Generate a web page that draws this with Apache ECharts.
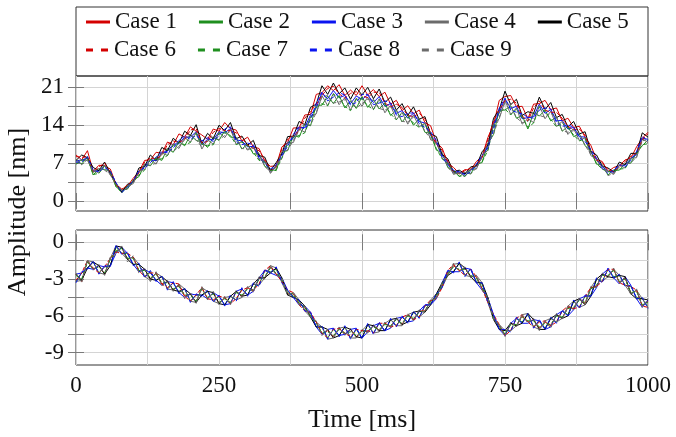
<!DOCTYPE html>
<html><head><meta charset="utf-8">
<script src="https://cdn.jsdelivr.net/npm/echarts@6/dist/echarts.min.js"></script>
<style>html,body{margin:0;padding:0;background:#fff}#c{width:676px;height:437px}</style>
</head><body><div id="c"></div>
<script>
const time = [0,10,20,30,40,50,60,70,80,90,
100,110,120,130,140,150,160,170,180,190,
200,210,220,230,240,250,260,270,280,290,
300,310,320,330,340,350,360,370,380,390,
400,410,420,430,440,450,460,470,480,490,
500,510,520,530,540,550,560,570,580,590,
600,610,620,630,640,650,660,670,680,690,
700,710,720,730,740,750,760,770,780,790,
800,810,820,830,840,850,860,870,880,890,
900,910,920,930,940,950,960,970,980,990,1000];

const caseNames = ['Case 1','Case 2','Case 3','Case 4','Case 5','Case 6','Case 7','Case 8','Case 9'];
const caseColors = ['#d40000','#1f8f1f','#0a14f0','#6b6b6b','#000000','#d40000','#1f8f1f','#0a14f0','#6b6b6b'];
const caseDashed = [false,false,false,false,false,true,true,true,true];

const xTicks = [0,250,500,750,1000];
const topYLabels = [0,7,14,21];
const topYGrid = [0,3.5,7,10.5,14,17.5,21];
const botYLabels = [-9,-6,-3,0];
const botYGrid = [-9,-7.5,-6,-4.5,-3,-1.5,0];

// upper panel
const top1 = [8.5,7.6,9.3,5.5,6.6,6.5,5.9,3.1,2.2,2.7,
4.2,5.4,7.5,7.6,9.0,8.8,10.9,10.4,12.4,11.8,
13.7,12.9,12.2,11.4,13.3,12.9,14.5,13.4,13.1,11.1,
11.8,10.0,9.7,7.3,6.4,6.5,10.0,10.8,13.5,13.5,
15.9,16.0,19.7,20.0,21.3,20.4,21.5,19.5,20.5,19.5,
21.3,19.6,20.6,19.3,20.1,17.9,18.6,16.7,17.6,16.1,
16.8,14.5,13.9,10.8,9.8,7.0,6.2,5.1,5.8,5.7,
7.3,8.2,11.7,14.1,18.6,19.3,19.5,17.4,17.5,15.2,
17.9,18.0,18.6,16.9,17.2,14.8,15.3,13.6,13.8,11.8,
10.3,7.7,7.3,5.4,6.2,6.5,7.6,7.9,10.0,11.6,12.7];
const top2 = [7.7,6.8,8.2,4.8,6.0,5.8,5.5,2.6,2.0,2.2,
3.9,4.5,6.8,6.5,8.0,7.5,9.7,9.0,11.0,10.2,
12.2,11.2,10.9,9.9,11.8,11.2,13.0,11.8,11.7,9.6,
10.5,8.7,8.7,6.4,5.9,5.6,9.1,9.3,12.1,11.8,
14.2,13.9,17.7,17.7,19.4,18.0,19.5,17.2,18.5,17.1,
19.3,17.3,18.7,17.0,18.1,15.8,16.8,14.6,15.9,14.0,
15.2,12.7,12.5,9.4,8.9,6.2,5.7,4.5,5.3,5.0,
6.8,7.1,10.6,12.3,16.8,16.8,17.6,15.3,15.8,13.3,
16.3,15.7,16.8,14.8,15.5,12.9,13.8,11.9,12.4,10.2,
9.3,6.8,6.7,4.8,5.7,5.7,6.9,7.0,9.0,10.2,11.3];
const top3 = [7.4,7.6,7.9,5.5,5.6,6.6,5.1,3.2,1.7,2.8,
3.5,5.4,6.3,7.7,7.4,8.9,9.2,10.5,10.6,11.8,
11.8,12.8,10.4,11.4,11.3,12.8,12.6,13.4,11.3,11.1,
10.0,10.1,8.3,7.3,5.5,6.5,8.7,10.8,11.6,13.5,
13.6,15.9,17.2,20.0,18.9,20.4,19.1,19.5,18.0,19.4,
18.8,19.6,18.2,19.3,17.5,18.0,16.2,16.7,15.3,16.2,
14.7,14.4,12.1,10.8,8.5,7.1,5.3,5.3,5.0,5.8,
6.4,8.3,10.1,14.2,16.3,18.9,17.1,17.5,15.2,15.4,
15.6,17.9,16.2,16.9,14.8,14.9,13.3,13.6,11.9,11.8,
9.0,7.7,6.4,5.5,5.3,6.6,6.6,7.9,8.6,11.6,11.4];
const top4 = [7.0,7.6,7.5,5.6,5.2,6.6,4.8,3.2,1.6,2.8,
3.2,5.5,5.8,7.7,6.8,8.9,8.4,10.5,9.7,11.7,
10.9,12.7,9.6,11.3,10.5,12.7,11.7,13.3,10.5,11.0,
9.4,10.0,7.7,7.3,5.1,6.5,8.0,10.7,10.8,13.3,
12.7,15.6,16.1,19.5,17.6,19.9,17.8,19.1,16.8,19.0,
17.5,19.2,16.9,18.9,16.3,17.7,15.0,16.4,14.2,15.9,
13.7,14.4,11.3,10.9,7.9,7.0,4.9,5.3,4.5,5.9,
5.9,8.3,9.4,14.1,15.2,18.6,16.0,17.2,14.2,15.2,
14.5,17.6,15.2,16.6,13.8,14.7,12.3,13.4,11.2,11.7,
8.4,7.7,5.9,5.6,4.9,6.6,6.1,7.9,8.0,11.5,10.8];
const top5 = [7.5,8.5,8.0,6.2,5.6,7.2,5.2,3.2,1.6,3.1,
3.5,6.1,6.4,8.5,7.5,9.9,9.3,11.6,10.7,12.9,
12.1,14.1,10.6,12.5,11.5,14.0,13.0,14.5,11.5,12.0,
10.3,11.2,8.4,8.1,5.6,7.1,8.8,11.9,12.0,14.7,
14.1,17.3,17.9,21.3,19.7,21.8,19.8,20.9,18.8,20.9,
19.6,21.0,18.9,20.7,18.2,19.2,16.8,18.0,15.8,17.4,
15.1,15.6,12.4,11.9,8.6,7.8,5.4,5.7,5.0,6.3,
6.5,9.1,10.3,15.3,16.9,20.3,17.8,18.8,15.8,16.5,
16.2,19.2,16.9,18.2,15.4,16.0,13.7,14.7,12.4,12.8,
9.2,8.5,6.5,6.1,5.4,7.2,6.7,8.8,8.8,12.6,11.8];
const top6 = [8.2,8.1,8.1,5.3,6.3,7.0,5.2,2.9,2.1,3.0,
3.6,5.2,7.2,8.0,7.7,8.5,10.4,11.1,10.8,11.4,
13.1,13.4,10.7,11.0,12.7,13.4,13.0,13.0,12.6,11.7,
10.3,9.7,9.3,7.7,5.6,6.2,9.7,11.4,12.0,13.0,
15.3,16.6,17.8,19.5,20.8,21.2,19.8,19.0,19.9,20.2,
19.4,19.1,20.1,20.1,18.1,17.4,17.9,17.3,15.8,15.6,
16.2,15.2,12.5,10.5,9.4,7.4,5.4,5.0,5.6,6.1,
6.5,8.0,11.3,14.8,16.8,18.6,18.8,18.1,15.7,14.8,
17.2,18.5,16.8,16.4,16.4,15.3,13.8,13.2,13.3,12.2,
9.2,7.5,7.1,5.8,5.4,6.3,7.3,8.3,8.8,11.3,12.4];
const top7 = [6.8,7.5,7.9,4.9,5.1,6.5,5.3,2.7,1.5,2.8,
3.5,4.8,5.7,7.6,7.7,7.8,8.4,10.3,10.8,10.4,
10.8,12.5,10.5,10.2,10.4,12.5,12.6,12.1,10.4,10.9,
10.2,9.0,7.5,7.2,5.6,5.8,7.9,10.6,11.8,12.1,
12.6,15.4,17.2,18.0,17.6,19.7,19.2,17.5,16.7,18.8,
18.9,17.6,16.9,18.7,17.7,16.1,15.0,16.3,15.5,14.4,
13.6,14.2,12.2,9.7,7.8,6.9,5.5,4.6,4.6,5.8,
6.5,7.3,9.3,13.8,16.5,17.0,15.9,17.0,15.5,13.6,
14.4,17.4,16.5,15.1,13.7,14.4,13.5,12.2,11.1,11.5,
9.1,6.9,5.9,5.4,5.5,5.9,6.0,7.8,8.7,10.4,10.6];
const top8 = [7.2,7.2,8.2,5.7,5.4,6.2,5.5,3.4,1.6,2.5,
3.7,5.6,6.1,7.1,8.1,9.1,8.9,9.8,11.2,12.0,
11.4,12.1,11.1,11.7,11.0,12.1,13.3,13.7,11.0,10.4,
10.7,10.4,8.0,6.9,5.9,6.7,8.4,10.1,12.3,13.8,
13.3,14.9,18.1,20.1,18.5,19.2,20.0,19.6,17.7,18.2,
19.7,19.7,17.8,18.1,18.5,18.1,15.9,15.6,16.2,16.3,
14.3,13.6,12.8,11.2,8.2,6.6,5.7,5.4,4.8,5.4,
6.8,8.4,9.8,13.2,17.2,19.0,16.8,16.4,16.1,15.5,
15.3,16.8,17.2,17.0,14.5,13.8,14.0,13.7,11.7,11.0,
9.5,7.9,6.1,5.1,5.7,6.7,6.3,7.5,9.1,11.9,11.1];
const top9 = [7.7,6.7,7.7,5.3,6.0,5.7,4.9,3.1,2.0,2.3,
3.4,5.2,6.8,6.6,7.0,8.6,9.8,9.1,10.1,11.3,
12.3,11.3,10.0,11.0,11.9,11.3,12.1,12.9,11.8,9.7,
9.6,9.8,8.8,6.4,5.3,6.3,9.1,9.4,11.2,13.0,
14.3,14.0,16.4,19.2,19.5,18.1,18.3,18.7,18.7,17.2,
18.0,18.8,18.8,17.1,16.8,17.3,16.9,14.7,14.6,15.5,
15.3,12.8,11.6,10.5,9.0,6.2,5.1,5.1,5.3,5.0,
6.1,8.0,10.7,12.4,15.5,18.2,17.6,15.4,14.5,14.7,
16.2,15.8,15.5,16.2,15.5,13.0,12.7,13.0,12.5,10.3,
8.6,7.4,6.7,4.7,5.1,6.3,6.9,7.0,8.2,11.1,11.4];

// lower panel
const bot1 = [-2.6,-3.2,-1.5,-2.2,-1.9,-2.6,-1.3,-0.8,-0.4,-1.4,
-1.2,-2.4,-2.2,-3.0,-2.5,-3.4,-3.2,-3.9,-3.5,-4.4,
-4.2,-4.9,-3.7,-4.6,-4.1,-5.0,-4.5,-5.0,-4.0,-4.4,
-3.7,-4.0,-2.9,-2.9,-2.0,-2.6,-3.0,-4.2,-4.2,-5.0,
-5.3,-6.0,-6.5,-7.5,-7.2,-7.7,-7.0,-7.5,-7.1,-7.7,
-7.2,-7.3,-6.8,-7.2,-6.6,-6.9,-6.2,-6.7,-5.9,-6.3,
-5.6,-5.6,-4.8,-4.5,-3.4,-2.6,-1.9,-2.3,-2.1,-2.8,
-2.8,-3.8,-4.6,-6.2,-6.8,-7.6,-6.6,-6.8,-6.0,-6.5,
-6.3,-7.0,-6.5,-6.8,-5.9,-6.2,-5.3,-5.4,-4.6,-5.0,
-3.7,-3.6,-2.6,-2.8,-2.2,-3.3,-2.9,-4.2,-3.9,-5.2,-4.8];
const bot2 = [-3.2,-2.5,-2.1,-1.6,-2.5,-2.0,-1.9,-0.4,-0.9,-0.9,
-1.8,-1.8,-2.8,-2.4,-3.1,-2.8,-3.8,-3.3,-4.1,-3.8,
-4.8,-4.3,-4.3,-4.0,-4.8,-4.4,-5.1,-4.4,-4.7,-3.8,
-4.3,-3.4,-3.5,-2.3,-2.4,-2.2,-3.2,-4.0,-4.4,-4.8,
-5.5,-5.8,-6.9,-6.9,-7.8,-7.1,-7.6,-6.9,-7.8,-7.1,
-7.8,-6.7,-7.4,-6.6,-7.2,-6.3,-6.8,-6.1,-6.5,-5.7,
-6.1,-5.2,-5.0,-4.3,-3.6,-2.4,-2.4,-1.7,-2.7,-2.2,
-3.2,-3.4,-4.8,-6.0,-7.0,-7.2,-7.2,-6.2,-6.5,-5.9,
-6.9,-6.4,-7.0,-6.2,-6.5,-5.6,-5.9,-4.8,-5.3,-4.4,
-4.3,-3.0,-3.2,-2.2,-2.8,-2.7,-3.5,-3.6,-4.5,-4.6,-5.3];
const bot3 = [-2.6,-2.5,-2.1,-2.2,-1.9,-2.0,-1.9,-0.9,-0.4,-0.9,
-1.8,-2.4,-2.2,-2.5,-3.1,-3.5,-3.2,-3.3,-4.1,-4.5,
-4.2,-4.3,-4.3,-4.6,-4.1,-4.4,-5.1,-5.0,-4.0,-3.8,
-4.3,-4.0,-2.9,-2.3,-2.5,-2.7,-2.9,-3.9,-4.5,-5.1,
-5.2,-5.7,-6.9,-7.5,-7.1,-7.0,-7.6,-7.5,-7.1,-7.0,
-7.8,-7.3,-6.8,-6.6,-7.2,-7.0,-6.2,-6.1,-6.5,-6.4,
-5.6,-5.1,-5.1,-4.6,-3.3,-2.3,-2.4,-2.4,-2.1,-2.2,
-3.3,-3.9,-4.5,-5.9,-7.1,-7.6,-6.6,-6.2,-6.6,-6.6,
-6.3,-6.4,-7.1,-6.9,-5.9,-5.6,-6.0,-5.5,-4.6,-4.4,
-4.4,-3.7,-2.6,-2.2,-2.9,-3.4,-2.8,-3.5,-4.6,-5.3,-4.7];
const bot4 = [-3.2,-3.1,-1.5,-1.6,-2.5,-2.6,-1.3,-0.3,-0.9,-1.4,
-1.2,-1.8,-2.8,-3.1,-2.5,-2.8,-3.8,-3.9,-3.4,-3.8,
-4.8,-4.9,-3.7,-4.0,-4.8,-5.0,-4.5,-4.4,-4.7,-4.5,
-3.7,-3.4,-3.5,-2.9,-1.9,-2.1,-3.3,-4.3,-4.1,-4.7,
-5.6,-6.1,-6.5,-6.9,-7.9,-7.8,-7.0,-6.9,-7.8,-7.8,
-7.2,-6.7,-7.4,-7.3,-6.6,-6.3,-6.8,-6.8,-5.9,-5.7,
-6.1,-5.7,-4.7,-4.2,-3.7,-2.7,-1.8,-1.7,-2.7,-2.8,
-2.7,-3.3,-4.9,-6.3,-6.7,-7.2,-7.2,-6.8,-5.9,-5.8,
-6.9,-7.1,-6.4,-6.2,-6.5,-6.2,-5.2,-4.8,-5.3,-5.1,
-3.7,-3.0,-3.2,-2.8,-2.2,-2.7,-3.5,-4.2,-3.9,-4.6,-5.3];
const bot5 = [-2.6,-3.1,-2.1,-1.6,-1.9,-2.6,-1.9,-0.3,-0.4,-1.4,
-1.8,-1.8,-2.2,-3.0,-3.1,-2.8,-3.2,-3.9,-4.0,-3.8,
-4.2,-4.9,-4.3,-4.0,-4.1,-5.0,-5.1,-4.4,-4.0,-4.4,
-4.3,-3.4,-2.9,-2.9,-2.5,-2.1,-2.9,-4.3,-4.5,-4.7,
-5.2,-6.1,-6.9,-6.9,-7.1,-7.8,-7.6,-6.9,-7.1,-7.7,
-7.8,-6.7,-6.8,-7.2,-7.2,-6.3,-6.2,-6.7,-6.5,-5.7,
-5.6,-5.7,-5.1,-4.2,-3.3,-2.7,-2.4,-1.7,-2.1,-2.8,
-3.3,-3.3,-4.5,-6.3,-7.1,-7.2,-6.6,-6.8,-6.6,-5.8,
-6.3,-7.1,-7.1,-6.2,-5.9,-6.2,-6.0,-4.8,-4.6,-5.1,
-4.4,-3.0,-2.6,-2.8,-2.9,-2.7,-2.8,-4.2,-4.6,-4.6,-4.7];
const bot6 = [-3.1,-2.5,-1.5,-2.1,-2.5,-2.0,-1.3,-0.8,-0.9,-0.9,
-1.2,-2.3,-2.8,-2.5,-2.5,-3.4,-3.7,-3.3,-3.4,-4.4,
-4.8,-4.3,-3.7,-4.6,-4.7,-4.4,-4.5,-5.0,-4.6,-3.9,
-3.7,-3.9,-3.4,-2.3,-1.9,-2.6,-3.2,-3.9,-4.1,-5.1,
-5.6,-5.7,-6.5,-7.4,-7.8,-7.1,-7.0,-7.4,-7.7,-7.1,
-7.2,-7.2,-7.4,-6.6,-6.6,-6.9,-6.8,-6.1,-5.9,-6.3,
-6.1,-5.2,-4.7,-4.6,-3.7,-2.3,-1.8,-2.3,-2.7,-2.2,
-2.8,-3.8,-4.9,-5.9,-6.7,-7.6,-7.2,-6.2,-5.9,-6.5,
-6.9,-6.5,-6.4,-6.8,-6.5,-5.6,-5.2,-5.4,-5.3,-4.4,
-3.7,-3.6,-3.2,-2.2,-2.2,-3.3,-3.5,-3.6,-3.9,-5.2,-5.3];
const bot7 = [-2.7,-3.0,-1.6,-2.2,-2.0,-2.5,-1.4,-0.7,-0.5,-1.3,
-1.3,-2.3,-2.3,-2.9,-2.6,-3.3,-3.3,-3.8,-3.6,-4.3,
-4.3,-4.8,-3.8,-4.5,-4.2,-4.9,-4.6,-4.9,-4.1,-4.3,
-3.8,-3.9,-3.0,-2.8,-2.1,-2.5,-3.0,-4.2,-4.2,-5.0,
-5.3,-6.0,-6.6,-7.4,-7.3,-7.6,-7.1,-7.4,-7.3,-7.6,
-7.3,-7.2,-6.9,-7.1,-6.7,-6.8,-6.3,-6.6,-6.0,-6.2,
-5.7,-5.6,-4.8,-4.5,-3.4,-2.6,-2.0,-2.2,-2.2,-2.7,
-2.9,-3.7,-4.6,-6.2,-6.8,-7.5,-6.7,-6.7,-6.1,-6.4,
-6.4,-6.9,-6.6,-6.7,-6.0,-6.1,-5.4,-5.3,-4.7,-4.9,
-3.8,-3.5,-2.7,-2.7,-2.3,-3.2,-3.0,-4.1,-4.0,-5.1,-4.9];
const bot8 = [-3.3,-2.4,-2.2,-1.5,-2.6,-1.9,-2.0,-0.2,-1.0,-0.8,
-1.9,-1.7,-2.9,-2.3,-3.2,-2.7,-3.9,-3.2,-4.2,-3.7,
-4.9,-4.2,-4.4,-3.9,-4.9,-4.3,-5.2,-4.3,-4.8,-3.7,
-4.4,-3.3,-3.6,-2.2,-2.5,-2.0,-3.3,-3.9,-4.5,-4.7,
-5.6,-5.7,-6.9,-6.8,-7.9,-7.0,-7.7,-6.8,-7.9,-7.0,
-7.9,-6.6,-7.5,-6.5,-7.3,-6.2,-6.9,-6.0,-6.6,-5.6,
-6.2,-5.1,-5.1,-4.2,-3.7,-2.3,-2.5,-1.6,-2.8,-2.1,
-3.3,-3.3,-4.9,-5.9,-7.1,-7.1,-7.3,-6.1,-6.6,-5.8,
-7.0,-6.3,-7.1,-6.1,-6.6,-5.5,-6.0,-4.7,-5.4,-4.3,
-4.4,-2.9,-3.3,-2.1,-2.9,-2.6,-3.6,-3.5,-4.6,-4.5,-5.4];
const bot9 = [-2.5,-3.3,-1.4,-2.3,-1.8,-2.7,-1.2,-1.0,-0.3,-1.6,
-1.1,-2.5,-2.1,-3.2,-2.4,-3.6,-3.1,-4.0,-3.4,-4.6,
-4.1,-5.0,-3.6,-4.7,-4.0,-5.1,-4.4,-5.1,-3.9,-4.5,
-3.6,-4.1,-2.8,-3.0,-1.9,-2.7,-2.9,-4.3,-4.1,-5.1,
-5.2,-6.1,-6.4,-7.6,-7.1,-7.8,-6.9,-7.6,-7.0,-7.8,
-7.1,-7.4,-6.7,-7.3,-6.5,-7.0,-6.1,-6.8,-5.8,-6.4,
-5.5,-5.7,-4.7,-4.6,-3.3,-2.7,-1.7,-2.4,-2.0,-2.9,
-2.7,-3.9,-4.5,-6.3,-6.7,-7.7,-6.5,-6.9,-5.9,-6.6,
-6.2,-7.2,-6.4,-7.0,-5.8,-6.3,-5.2,-5.5,-4.5,-5.1,
-3.6,-3.7,-2.5,-2.9,-2.1,-3.4,-2.8,-4.3,-3.8,-5.3,-4.6];

const topData = [top1,top2,top3,top4,top5,top6,top7,top8,top9];
const botData = [bot1,bot2,bot3,bot4,bot5,bot6,bot7,bot8,bot9];

const FONT = 'Liberation Serif';
const TXT = '#111';
const GRIDC = '#d4d4d4';
const TICKC = '#7a7a7a';

function pairs(arr){ return time.map((t,k)=>[t, arr[k]]); }

const series = [];
for (let i = 0; i < 9; i++) {
  const ls = {color: caseColors[i], width: 1, type: caseDashed[i] ? [4,2] : 'solid'};
  series.push({name: caseNames[i], type:'line', xAxisIndex:0, yAxisIndex:0, data: pairs(topData[i]),
    symbol:'none', showSymbol:false, lineStyle: ls, itemStyle:{color: caseColors[i]}, z: 3, silent:true});
  series.push({name: caseNames[i], type:'line', xAxisIndex:2, yAxisIndex:2, data: pairs(botData[i]),
    symbol:'none', showSymbol:false, lineStyle: ls, itemStyle:{color: caseColors[i]}, z: 3, silent:true});
}

function xAx(grid, pos, labels, withGrid) {
  return {type:'value', gridIndex:grid, position:pos, min:0, max:1000, interval:125,
    axisLine:{show:false},
    axisTick:{show:true, inside:true, length:8, lineStyle:{color:TICKC, width:1}},
    splitLine:{show:withGrid, lineStyle:{color:GRIDC, width:1}},
    axisLabel: labels ? {show:true, margin:9, fontFamily:FONT, fontSize:23, color:TXT,
      formatter: v => xTicks.indexOf(v) >= 0 ? String(v) : ''} : {show:false}
  };
}
function yAx(grid, pos, min, max, gridVals, labelVals, labels, withGrid) {
  return {type:'value', gridIndex:grid, position:pos, min:min, max:max,
    axisLine:{show:false},
    axisTick:{show:true, inside:true, length:8, customValues:gridVals, lineStyle:{color:TICKC, width:1}},
    splitLine:{show:withGrid, lineStyle:{color:GRIDC, width:1}},
    axisLabel: labels ? {show:true, customValues:labelVals, margin:12, fontFamily:FONT, fontSize:23, color:TXT} : {show:false, customValues:labelVals}
  };
}

const xBottom = xAx(1,'bottom',true,true);
xBottom.name = 'Time [ms]';
xBottom.nameLocation = 'middle';
xBottom.nameGap = 42;
xBottom.nameTextStyle = {fontFamily:FONT, fontSize:26, color:TXT};

const ICON_SOLID = 'path://M0,0H24V3H0Z';
const ICON_DASH = 'path://M0,0H7V3H0Z M15,0H22V3H15Z';
function legendItems(from, to) {
  const out = [];
  for (let i = from; i < to; i++) {
    out.push({name: caseNames[i], icon: caseDashed[i] ? ICON_DASH : ICON_SOLID, itemStyle:{color: caseColors[i]}});
  }
  return out;
}
const legendBase = {orient:'horizontal', left:86, padding:0, itemGap:22, itemWidth:24, itemHeight:3,
  selectedMode:false, textStyle:{fontFamily:FONT, fontSize:23, color:TXT, lineHeight:24}};

const option = {
  animation:false,
  backgroundColor:'#fff',
  grid:[
    {left:76, top:76, width:572, height:135, show:true, borderColor:'#333', borderWidth:1, backgroundColor:'transparent'},
    {left:76, top:230, width:572, height:135, show:true, borderColor:'#333', borderWidth:1, backgroundColor:'transparent'}
  ],
  legend:[
    Object.assign({}, legendBase, {top:10, data: legendItems(0,5)}),
    Object.assign({}, legendBase, {top:38, data: legendItems(5,9)})
  ],
  xAxis:[ xAx(0,'bottom',false,true), xAx(0,'top',false,false), xBottom, xAx(1,'top',false,false) ],
  yAxis:[
    yAx(0,'left',-1.85,23.1,topYGrid,topYLabels,true,true),
    yAx(0,'right',-1.85,23.1,topYGrid,topYLabels,false,false),
    yAx(1,'left',-10,1,botYGrid,botYLabels,true,true),
    yAx(1,'right',-10,1,botYGrid,botYLabels,false,false)
  ],
  graphic:[
    {type:'rect', shape:{x:76, y:7, width:572, height:69}, style:{fill:'none', stroke:'#333', lineWidth:1}, silent:true},
    {type:'text', x:18, y:212, rotation:Math.PI/2, style:{text:'Amplitude [nm]', fontFamily:FONT, fontSize:26, fill:TXT, textAlign:'center', textVerticalAlign:'middle'}, silent:true}
  ],
  series: series
};

const chart = echarts.init(document.getElementById('c'), null, {renderer:'canvas'});
chart.setOption(option);
</script>
</body></html>
